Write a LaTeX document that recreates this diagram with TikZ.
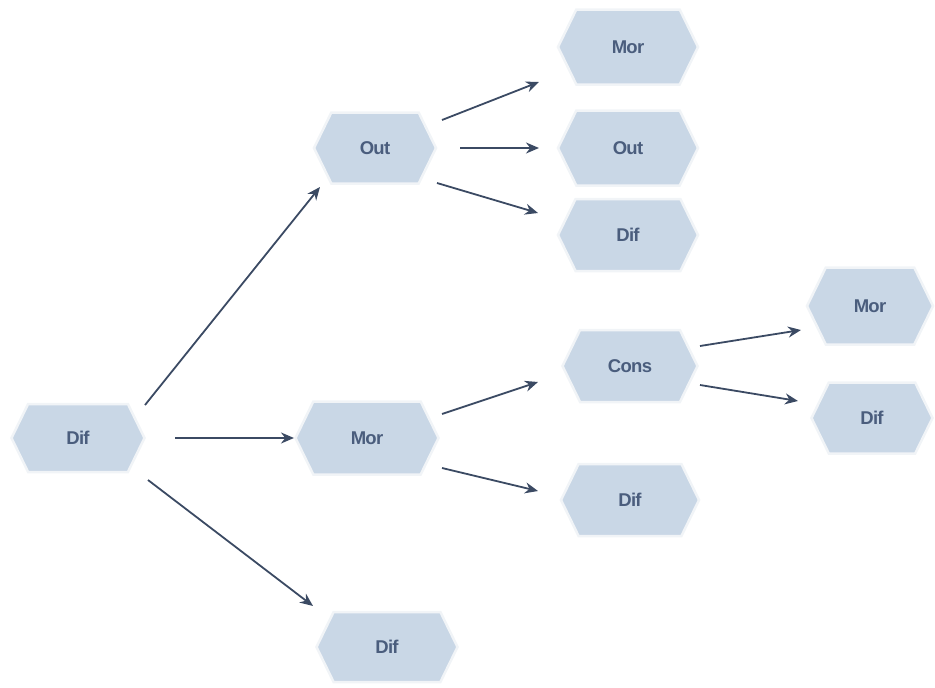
\documentclass[tikz,border=0pt]{standalone}
\usepackage{fontspec}
\setmainfont{Liberation Sans}
\newfontfamily\hexfont[LetterSpace=-4]{Liberation Sans}
\usetikzlibrary{shapes.symbols,calc,arrows.meta}
\definecolor{hexfill}{HTML}{C9D7E6}
\definecolor{hexhalo}{HTML}{F1F4F7}
\definecolor{hextext}{HTML}{4A5D7D}
\definecolor{arrowcol}{HTML}{3B4A63}
\tikzset{
  hexnode/.style={signal, signal to=east and west, signal pointer angle=128,
    fill=hexfill, draw=hexhalo, line width=2.5pt, inner sep=0pt,
    text=hextext, font=\hexfont\bfseries\fontsize{18.5}{20}\selectfont,
    minimum height=#1},
  hexnode/.default=72,
  arr/.style={draw=arrowcol, line width=1.8pt, -{Stealth[length=13pt,width=11pt]}}
}
\begin{document}
\begin{tikzpicture}[x=1pt,y=-1pt]
\useasboundingbox (0,0) rectangle (935,688);
\node[hexnode=68, minimum width=133] (root) at (78,438) {Dif};
\node[hexnode=71, minimum width=122] (out) at (375,148) {Out};
\node[hexnode=73, minimum width=143] (mor) at (367,438) {Mor};
\node[hexnode=70, minimum width=141] (difb) at (387,647) {Dif};
\node[hexnode=75, minimum width=140] (mor2) at (628,47) {Mor};
\node[hexnode=75, minimum width=140] (out2) at (628,148) {Out};
\node[hexnode=72, minimum width=140] (dif2) at (628,235) {Dif};
\node[hexnode=72, minimum width=135] (cons) at (630,366) {Cons};
\node[hexnode=72, minimum width=138] (dif3) at (630,500) {Dif};
\node[hexnode=77, minimum width=126] (mor4) at (870,306) {Mor};
\node[hexnode=71, minimum width=121] (dif4) at (872,418) {Dif};

\draw[arr] ($(root)+(67,-33)$) -- ($(out)+(-55,39)$);
\draw[arr] ($(root)+(97,0)$) -- ($(mor)+(-73,0)$);
\draw[arr] ($(root)+(70,42)$) -- ($(difb)+(-74,-41)$);
\draw[arr] ($(out)+(67,-28)$) -- ($(mor2)+(-89,35)$);
\draw[arr] ($(out)+(85,0)$) -- ($(out2)+(-89,0)$);
\draw[arr] ($(out)+(62,35)$) -- ($(dif2)+(-90,-22)$);
\draw[arr] ($(mor)+(75,-24)$) -- ($(cons)+(-92,16)$);
\draw[arr] ($(mor)+(75,30)$) -- ($(dif3)+(-92,-9)$);
\draw[arr] ($(cons)+(70,-20)$) -- ($(mor4)+(-69,24)$);
\draw[arr] ($(cons)+(70,19)$) -- ($(dif4)+(-74,-17)$);
\end{tikzpicture}
\end{document}
